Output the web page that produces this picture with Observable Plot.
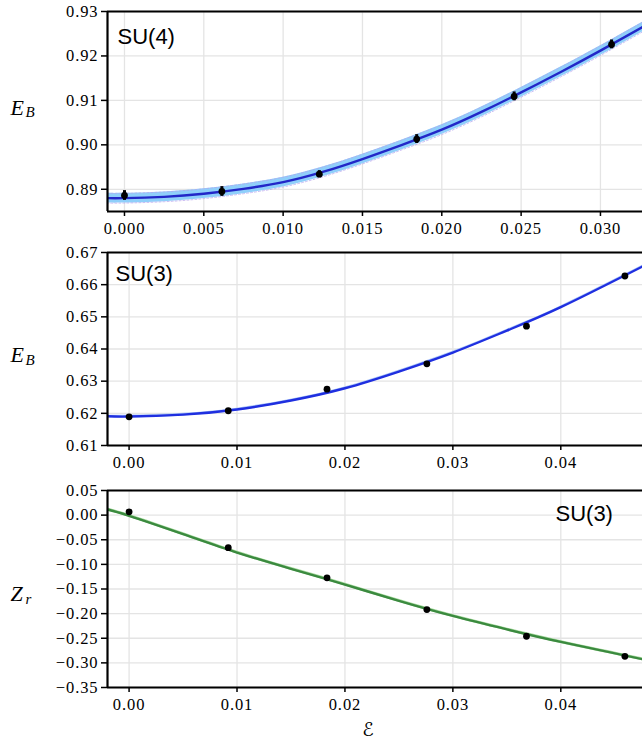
<!DOCTYPE html>
<html><head><meta charset="utf-8">
<script src="https://cdn.jsdelivr.net/npm/d3@7"></script>
<script src="https://cdn.jsdelivr.net/npm/@observablehq/plot@0.6"></script>
<style>
body{margin:0;background:#fff;overflow:hidden}
#c{width:642px}
#c svg{display:block}
</style>
</head><body><div id="c"></div>
<script>
// ---------- Panel 1: SU(4), E_B ----------
const su4_x   = [0, 0.00614, 0.01228, 0.01842, 0.02456, 0.0307];
const su4_E   = [0.8886, 0.8895, 0.8934, 0.9013, 0.9109, 0.9226];
const su4_err = [0.0011, 0.0011, 0.0008, 0.0010, 0.0010, 0.0010];
const su4_fit_x = [-0.0011, 0, 0.0025, 0.005, 0.0075, 0.010, 0.0125, 0.015, 0.0175, 0.020, 0.0225, 0.025, 0.0275, 0.030, 0.0327];
const su4_fit_E = [0.8880, 0.8880, 0.8883, 0.8890, 0.8901, 0.8916, 0.8939, 0.8968, 0.9000, 0.9034, 0.9074, 0.9118, 0.9164, 0.9212, 0.9266];
const su4_band = 0.0011;
const su4_xticks = [0, 0.005, 0.010, 0.015, 0.020, 0.025, 0.030];
const su4_yticks = [0.89, 0.90, 0.91, 0.92, 0.93];

// ---------- Panel 2: SU(3), E_B ----------
const su3_x   = [0, 0.00919, 0.01834, 0.02759, 0.03682, 0.04594];
const su3_E   = [0.6189, 0.6208, 0.6275, 0.6354, 0.6471, 0.6627];
const su3_fit_x = [-0.002, 0, 0.005, 0.010, 0.015, 0.020, 0.025, 0.030, 0.035, 0.040, 0.0476];
const su3_fit_E = [0.6191, 0.6190, 0.6196, 0.6212, 0.6240, 0.6278, 0.6330, 0.6389, 0.6457, 0.6530, 0.6657];
const su3_band = 0.0004;
const su3_xticks = [0, 0.01, 0.02, 0.03, 0.04];
const su3_yticks = [0.61, 0.62, 0.63, 0.64, 0.65, 0.66, 0.67];

// ---------- Panel 3: SU(3), Z_r ----------
const zr_x   = [0, 0.00919, 0.01834, 0.02759, 0.03682, 0.04594];
const zr_Z   = [0.0067, -0.066, -0.1274, -0.1918, -0.2459, -0.2866];
const zr_fit_x = [-0.002, 0, 0.005, 0.010, 0.015, 0.020, 0.025, 0.030, 0.035, 0.040, 0.0476];
const zr_fit_Z = [0.0114, -0.0014, -0.0385, -0.0760, -0.1090, -0.1410, -0.1740, -0.2047, -0.2320, -0.2575, -0.2927];
const zr_band = 0.003;
const zr_yticks = [-0.35, -0.30, -0.25, -0.20, -0.15, -0.10, -0.05, 0.00, 0.05];

const serif = "Liberation Serif";
const sans = "Liberation Sans";
const gridColor = "#e4e4e4";

function panel(o) {
  const pts = o.px.map((x, i) => ({x, y: o.py[i], lo: o.err ? o.py[i] - o.err[i] : null, hi: o.err ? o.py[i] + o.err[i] : null}));
  const fit = o.fx.map((x, i) => ({x, y: o.fy[i]}));
  const marks = [
    Plot.gridX(o.xticks, {stroke: gridColor, strokeOpacity: 1, strokeWidth: 1.3}),
    Plot.gridY(o.yticks, {stroke: gridColor, strokeOpacity: 1, strokeWidth: 1.3}),
    Plot.areaY(fit, {x: "x", y1: d => d.y - o.band, y2: d => d.y + o.band, fill: o.bandColor, fillOpacity: 1, curve: "natural", clip: true}),
  ];
  if (o.bandEdge) {
    marks.push(
      Plot.line(fit, {x: "x", y: d => d.y - o.band, stroke: o.bandEdge, strokeWidth: 1, strokeDasharray: "2,2", strokeOpacity: 0.7, curve: "natural", clip: true}),
      Plot.line(fit, {x: "x", y: d => d.y + o.band, stroke: o.bandEdge, strokeWidth: 1, strokeDasharray: "2,2", strokeOpacity: 0.7, curve: "natural", clip: true})
    );
  }
  marks.push(Plot.line(fit, {x: "x", y: "y", stroke: o.lineColor, strokeWidth: 2.4, curve: "natural", clip: true}));
  if (o.err) marks.push(Plot.ruleX(pts, {x: "x", y1: "lo", y2: "hi", stroke: "black", strokeWidth: 3}));
  marks.push(
    Plot.dot(pts, {x: "x", y: "y", r: 3.4, fill: "black", stroke: "none"}),
    Plot.ruleX([o.xdom[0]], {stroke: "black", strokeWidth: 2.2}),
    Plot.ruleY([o.ydom[0], o.ydom[1]], {stroke: "black", strokeWidth: 2.2}),
    Plot.axisX(o.xticks, {tickFormat: d3.format(o.xfmt), tickSize: 5, tickPadding: 6, fontSize: 16.5, fontFamily: serif, label: null, strokeWidth: 1.5}),
    Plot.axisY(o.yticks, {tickFormat: d3.format(".2f"), tickSize: 6, tickPadding: 3, fontSize: 16.5, fontFamily: serif, label: null, strokeWidth: 1.5}),
    Plot.text([o.ylab[0]], {text: d => d, frameAnchor: "left", dx: -97, dy: o.labDy, textAnchor: "start", fontSize: 22, fontStyle: "italic", fontFamily: serif}),
    Plot.text([o.ylab[1]], {text: d => d, frameAnchor: "left", dx: -82, dy: o.labDy + 5, textAnchor: "start", fontSize: 15, fontStyle: "italic", fontFamily: serif}),
    Plot.text([o.title], {text: d => d, frameAnchor: "top-left", dx: o.titleDx, dy: o.titleDy, textAnchor: "start", lineAnchor: "top", fontSize: 22, fontFamily: sans})
  );
  if (o.extra) marks.push(...o.extra);
  const svg = Plot.plot({
    width: 642, height: o.height,
    marginLeft: 107, marginRight: 0, marginTop: o.mt, marginBottom: o.mb,
    style: {fontSize: "16px", background: "white", overflow: "visible"},
    x: {domain: o.xdom},
    y: {domain: o.ydom},
    marks
  });
  svg.querySelectorAll("text").forEach(t => {
    if (/^[\u2212\-0-9]/.test(t.textContent)) {
      t.style.fontFamily = "'Liberation Serif', serif";
      t.style.letterSpacing = "0.9px";
      t.style.fontVariantNumeric = "normal";
    }
  });
  document.getElementById("c").appendChild(svg);
}

panel({
  px: su4_x, py: su4_E, err: su4_err, fx: su4_fit_x, fy: su4_fit_E, band: su4_band,
  bandColor: "#8fcffa", bandEdge: "#b7a3ee", lineColor: "#2227c8",
  xdom: [-0.00107, 0.03265], ydom: [0.885, 0.93], xticks: su4_xticks, yticks: su4_yticks, xfmt: ".3f",
  height: 240, mt: 11, mb: 29, ylab: ["E", "B"], labDy: -4, title: "SU(4)", titleDx: 10, titleDy: 17
});
panel({
  px: su3_x, py: su3_E, fx: su3_fit_x, fy: su3_fit_E, band: su3_band,
  bandColor: "#a9c4f7", lineColor: "#1f2fe0",
  xdom: [-0.002, 0.04757], ydom: [0.61, 0.67], xticks: su3_xticks, yticks: su3_yticks, xfmt: ".2f",
  height: 230, mt: 12, mb: 25, ylab: ["E", "B"], labDy: 6, title: "SU(3)", titleDx: 8, titleDy: 13
});
panel({
  px: zr_x, py: zr_Z, fx: zr_fit_x, fy: zr_fit_Z, band: zr_band,
  bandColor: "#a8dba0", lineColor: "#3b8a3f",
  xdom: [-0.002, 0.04757], ydom: [-0.35, 0.05], xticks: su3_xticks, yticks: zr_yticks, xfmt: ".2f",
  height: 270, mt: 20, mb: 53, ylab: ["Z", "r"], labDy: 5, title: "SU(3)", titleDx: 448, titleDy: 15,
  extra: [Plot.text(["\u2130"], {text: d => d, frameAnchor: "bottom", dx: -7, dy: 48, lineAnchor: "bottom", fontSize: 19, fontFamily: "DejaVu Sans"})]
});
</script>
</body></html>
